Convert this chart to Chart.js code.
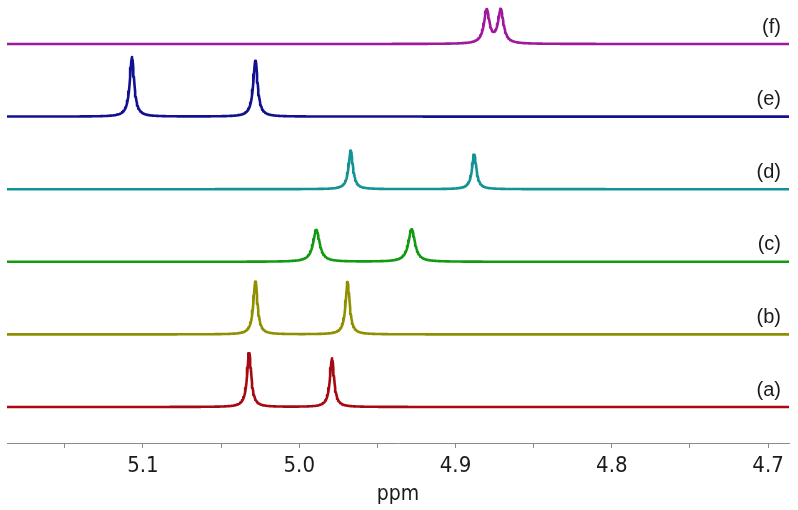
<!DOCTYPE html>
<html>
<head>
<meta charset="utf-8">
<script src="https://cdn.jsdelivr.net/npm/chart.js@4"></script>
<style>
  html, body { margin: 0; padding: 0; background: #fff; }
  canvas { display: block; }
</style>
</head>
<body>
<canvas id="nmrChart" width="798" height="510"></canvas>
<script>
// spectra, bottom to top
const spectrumLabels = ['(a)', '(b)', '(c)', '(d)', '(e)', '(f)'];
// peak positions (ppm), heights (in trace-spacing units), half widths (ppm)
const peakShifts = [
  [5.032, 4.979],
  [5.028, 4.969],
  [4.989, 4.928],
  [4.967, 4.888],
  [5.107, 5.028],
  [4.880, 4.871]
];
const peakHeights = [
  [0.75, 0.67],
  [0.74, 0.72],
  [0.44, 0.45],
  [0.53, 0.48],
  [0.82, 0.78],
  [0.46, 0.46]
];
const peakWidths = [0.0016, 0.0016, 0.0025, 0.0017, 0.0017, 0.0021];

const ppmTicks = [5.15, 5.1, 5.05, 5.0, 4.95, 4.9, 4.85, 4.8, 4.75, 4.7];
const ppmLabels = ['', '5.1', '', '5.0', '', '4.9', '', '4.8', '', '4.7'];

const ppmLeft = 5.187;
const ppmRight = 4.6866;

const colors = ['#a50a12', '#8f8f00', '#139a13', '#139393', '#12128e', '#a0189e'];

// sample grid along the ppm axis
let xs = [];
for (let k = 0; ppmRight + k * 0.0004 <= ppmLeft; k++) {
  xs.push(+(ppmRight + k * 0.0004).toFixed(5));
}

function lorentz(x, i) {
  let y = 0;
  peakShifts[i].forEach((c, k) => {
    const d = (x - c) / peakWidths[i];
    y += peakHeights[i][k] / (1 + d * d);
  });
  return y;
}

const datasets = spectrumLabels.map((lab, i) => ({
  label: lab,
  data: xs.map(x => ({ x: x, y: i + lorentz(x, i) })),
  borderColor: colors[i],
  borderWidth: 2.6,
  borderJoinStyle: 'round',
  borderCapStyle: 'round',
  pointRadius: 0,
  fill: false,
  tension: 0
}));

const traceLabels = {
  id: 'traceLabels',
  afterDatasetsDraw(chart) {
    const ctx = chart.ctx;
    const yScale = chart.scales.y;
    ctx.save();
    ctx.font = '20px "Liberation Sans", Arial, sans-serif';
    ctx.fillStyle = '#1a1a1a';
    ctx.textAlign = 'right';
    ctx.textBaseline = 'middle';
    spectrumLabels.forEach((lab, i) => {
      ctx.fillText(lab, 781, yScale.getPixelForValue(i) - 17);
    });
    ctx.restore();
  }
};

new Chart(document.getElementById('nmrChart'), {
  type: 'line',
  data: { datasets: datasets },
  options: {
    responsive: false,
    animation: false,
    devicePixelRatio: 1,
    layout: { padding: { left: 7, right: 9, top: 0, bottom: 0 } },
    plugins: {
      legend: { display: false },
      tooltip: { enabled: false }
    },
    scales: {
      x: {
        type: 'linear',
        reverse: true,
        min: ppmRight,
        max: ppmLeft,
        afterBuildTicks: scale => {
          scale.ticks = ppmTicks.map(v => ({ value: v }));
        },
        afterFit: scale => { scale.height = 67; },
        grid: {
          drawOnChartArea: false,
          drawTicks: true,
          tickLength: 5,
          color: '#8a8a8a'
        },
        border: { color: '#8a8a8a', width: 1 },
        ticks: {
          autoSkip: false,
          maxRotation: 0,
          padding: 5,
          color: '#1a1a1a',
          font: { family: '"DejaVu Sans Condensed", "DejaVu Sans", sans-serif', size: 22 },
          callback: (v, idx) => ppmLabels[idx]
        },
        title: {
          display: true,
          text: 'ppm',
          color: '#1a1a1a',
          padding: { top: 0, bottom: 3 },
          font: { family: '"DejaVu Sans Condensed", "DejaVu Sans", sans-serif', size: 21 }
        }
      },
      y: {
        display: false,
        min: -0.496,
        max: 5.606
      }
    }
  },
  plugins: [traceLabels]
});
</script>
</body>
</html>
